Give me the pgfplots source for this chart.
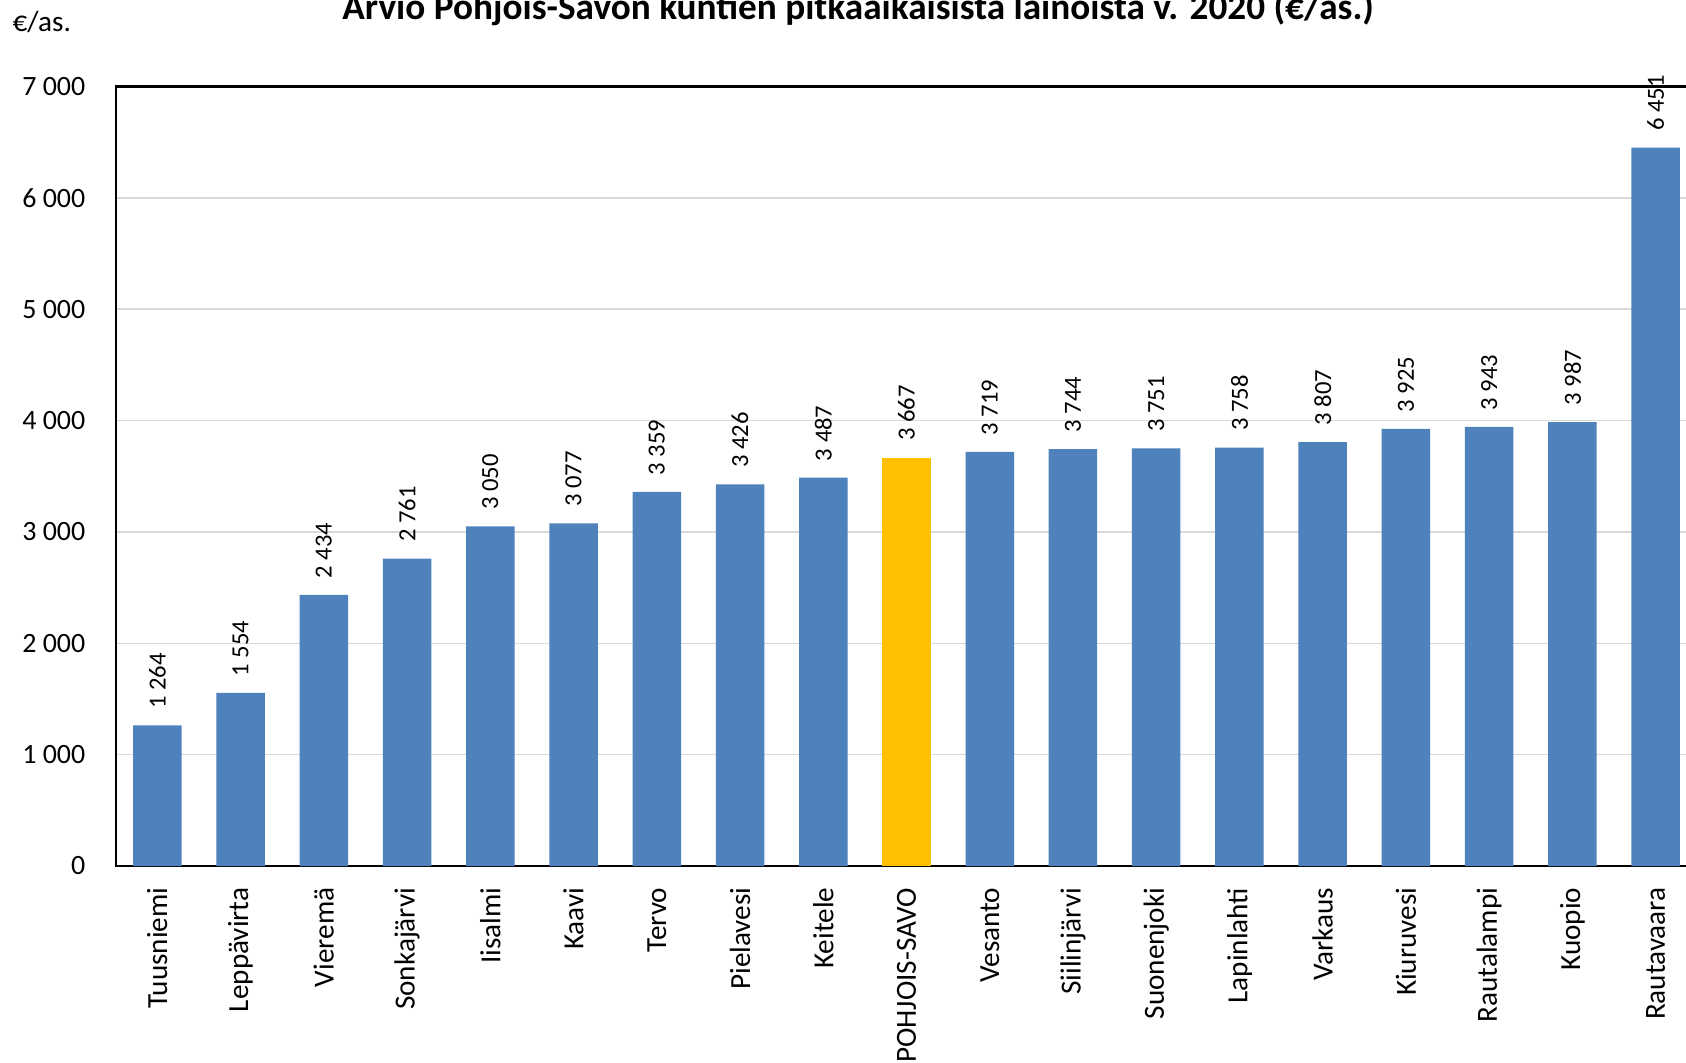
\documentclass[border=0pt]{standalone}
\usepackage{pgfplots}
\pgfplotsset{compat=1.18}
\usepackage{fontspec}
\setmainfont{Carlito}
\definecolor{barblue}{HTML}{4F81BD}
\definecolor{baryellow}{HTML}{FFC000}
\definecolor{gridgray}{HTML}{D9D9D9}
\begin{document}
\begin{tikzpicture}
\path[use as bounding box, clip] (0,0) rectangle (168.6mm,106.2mm);
\node[anchor=base, font=\fontsize{10.6pt}{12pt}\selectfont\bfseries, inner sep=0pt] at (85.8mm,104.2mm) {Arvio Pohjois-Savon kuntien pitkäaikaisista lainoista v. 2020 (€/as.)};
\node[anchor=base west, font=\fontsize{8.3pt}{9pt}\selectfont, inner sep=0pt] at (1.2mm,103.0mm) {€/as.};
\begin{axis}[
  at={(11.57mm,19.6mm)}, anchor=south west,
  scale only axis,
  width=158.16mm, height=77.95mm,
  xmin=-0.5, xmax=18.5,
  ymin=0, ymax=7000,
  ytick={0,1000,...,7000},
  xtick={0,...,18},
  xticklabels={Tuusniemi,Leppävirta,Vieremä,Sonkajärvi,Iisalmi,Kaavi,Tervo,Pielavesi,Keitele,POHJOIS-SAVO,Vesanto,Siilinjärvi,Suonenjoki,Lapinlahti,Varkaus,Kiuruvesi,Rautalampi,Kuopio,Rautavaara},
  major tick length=0pt,
  ymajorgrids,
  grid style={gridgray, line width=0.45pt},
  axis line style={black, line width=0.6pt},
  /pgf/number format/assume math mode=true,
  /pgf/number format/1000 sep={\ },
  yticklabel style={font=\fontsize{7.95pt}{9pt}\selectfont, inner sep=0pt, anchor=east, xshift=-2.97mm},
  xticklabel style={font=\fontsize{8.3pt}{9pt}\selectfont, yshift=-2.1mm, rotate=90, anchor=east, inner sep=0pt},
  ybar, bar width=4.85mm, bar shift=0pt,
  nodes near coords,
  nodes near coords style={font=\fontsize{7pt}{8pt}\selectfont, rotate=90, anchor=west, inner xsep=1.6mm, inner ysep=0pt, black},
]
\addplot[fill=barblue, draw=none] coordinates {
(0,1264) (1,1554) (2,2434) (3,2761) (4,3050) (5,3077) (6,3359) (7,3426) (8,3487)
(10,3719) (11,3744) (12,3751) (13,3758) (14,3807) (15,3925) (16,3943) (17,3987) (18,6451)};
\addplot[fill=baryellow, draw=none] coordinates {(9,3667)};
\end{axis}
\end{tikzpicture}
\end{document}
